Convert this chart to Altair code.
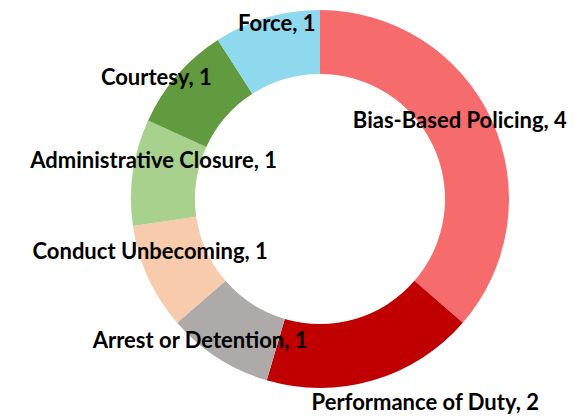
import altair as alt
import pandas as pd

categories = ["Bias-Based Policing", "Performance of Duty", "Arrest or Detention",
              "Conduct Unbecoming", "Administrative Closure", "Courtesy", "Force"]
counts = [4, 2, 1, 1, 1, 1, 1]
colors = ["#F66B6B", "#C00000", "#AEAAAA", "#F8CBAD", "#A9D18E", "#619A3F", "#8ED9EE"]

df = pd.DataFrame({
    "category": categories,
    "count": counts,
    "order": list(range(len(categories))),
})
df["label"] = [f"{c}, {n}" for c, n in zip(categories, counts)]

# label nudges (pixels) from the mid-ring anchor
offsets = {
    "Bias-Based Policing": (-3, -13),
    "Performance of Duty": (61, 53),
    "Arrest or Detention": (-35, 10),
    "Conduct Unbecoming": (-27, -12),
    "Administrative Closure": (-11, -16),
    "Courtesy": (-45, -18),
    "Force": (1, -24),
}

base = alt.Chart(df).encode(
    theta=alt.Theta("count:Q", stack=True),
    order=alt.Order("order:Q"),
)

arcs = base.mark_arc(radius=189, innerRadius=125, stroke=None).encode(
    color=alt.Color("category:N", scale=alt.Scale(domain=categories, range=colors), legend=None),
)

layers = [arcs]
for cat in categories:
    dx, dy = offsets[cat]
    t = base.transform_calculate(
        lbl=f"datum.category === '{cat}' ? datum.label : ''"
    ).mark_text(
        radius=157, dx=dx, dy=dy, font="Lato", fontWeight="bold", fontSize=22, color="#000000"
    ).encode(text="lbl:N")
    layers.append(t)

chart = alt.layer(*layers).properties(
    width=382, height=362,
    autosize=alt.AutoSizeParams(type="none"),
    padding={"left": 121, "top": 10, "right": 65, "bottom": 40},
).configure_view(stroke=None)

chart.save("out.html", embed_options={"renderer": "svg", "actions": False})
